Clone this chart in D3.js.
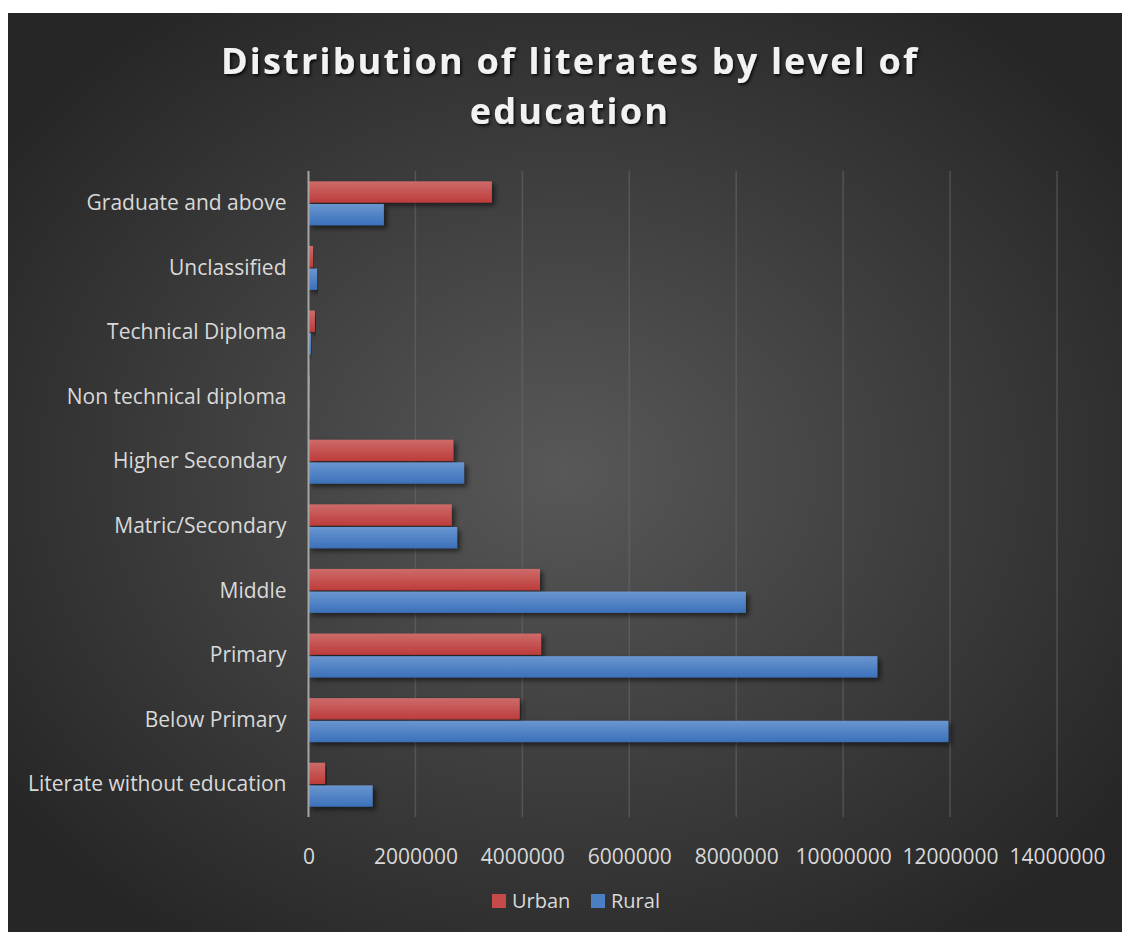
<!DOCTYPE html>
<html>
<head>
<meta charset="utf-8">
<script src="https://cdn.jsdelivr.net/npm/d3@7"></script>
<style>
  html, body { margin: 0; padding: 0; background: #ffffff; }
  svg { display: block; font-family: "Open Sans", Lato, sans-serif; }
</style>
</head>
<body>
<svg id="chart" width="1122" height="932"></svg>
<script>
// Education levels, bottom to top as drawn on the axis
const categories = [
  "Literate without education",
  "Below Primary",
  "Primary",
  "Middle",
  "Matric/Secondary",
  "Higher Secondary",
  "Non technical diploma",
  "Technical Diploma",
  "Unclassified",
  "Graduate and above"
];
const urban = [310000, 3950000, 4350000, 4330000, 2680000, 2710000, 25000, 120000, 85000, 3430000];
const rural = [1200000, 11970000, 10640000, 8180000, 2780000, 2910000, 20000, 45000, 160000, 1410000];
const seriesNames = ["Urban", "Rural"];
const xTicks = [0, 2000000, 4000000, 6000000, 8000000, 10000000, 12000000, 14000000];
const titleLines = ["Distribution of literates by level of", "education"];

const W = 1122, H = 932;
const FONT = "'Open Sans', Lato, sans-serif";
const svg = d3.select("#chart");
const defs = svg.append("defs");

// Background: dark panel with soft light centre
const bg = defs.append("radialGradient").attr("id", "bgGrad")
  .attr("cx", "50%").attr("cy", "50%").attr("r", "62%");
bg.append("stop").attr("offset", "0%").attr("stop-color", "#585858");
bg.append("stop").attr("offset", "100%").attr("stop-color", "#262626");

// Bar fills: lighter top edge, deeper bottom
function barGrad(id, top, bottom) {
  const g = defs.append("linearGradient").attr("id", id)
    .attr("x1", 0).attr("y1", 0).attr("x2", 0).attr("y2", 1);
  g.append("stop").attr("offset", "0%").attr("stop-color", top);
  g.append("stop").attr("offset", "100%").attr("stop-color", bottom);
}
barGrad("gUrban", "#cd6b6a", "#bd3c3b");
barGrad("gRural", "#6a96d0", "#3b71ba");

const shadow = defs.append("filter").attr("id", "barShadow")
  .attr("x", "-5%").attr("y", "-30%").attr("width", "115%").attr("height", "180%");
shadow.append("feDropShadow").attr("dx", 3).attr("dy", 3).attr("stdDeviation", 2.5)
  .attr("flood-color", "#000").attr("flood-opacity", 0.55);

const titleShadow = defs.append("filter").attr("id", "titleShadow");
titleShadow.append("feDropShadow").attr("dx", 1.5).attr("dy", 2).attr("stdDeviation", 1.5)
  .attr("flood-color", "#000").attr("flood-opacity", 0.8);

svg.append("rect").attr("x", 8).attr("y", 13).attr("width", W - 8).attr("height", H - 13)
  .attr("fill", "url(#bgGrad)");

// Plot area
const plot = { left: 308.5, right: 1057, top: 171, bottom: 817 };

const x = d3.scaleLinear().domain([0, 14000000]).range([plot.left, plot.right]);
const y = d3.scaleBand().domain(categories).range([plot.bottom, plot.top]).paddingInner(0.32).paddingOuter(0.16);
const ySub = d3.scaleBand().domain(seriesNames).range([0, y.bandwidth()]).paddingInner(0.06);

// Vertical gridlines
svg.append("g").selectAll("line").data(xTicks.slice(1)).join("line")
  .attr("x1", d => x(d)).attr("x2", d => x(d))
  .attr("y1", plot.top).attr("y2", plot.bottom)
  .attr("stroke", "#6a6a6a").attr("stroke-opacity", 0.55).attr("stroke-width", 1.5);

// Bars
const groups = svg.append("g").selectAll("g").data(categories).join("g")
  .attr("transform", d => `translate(0,${y(d)})`);

groups.each(function(cat, i) {
  const g = d3.select(this);
  const vals = [
    { s: "Urban", v: urban[i], fill: "url(#gUrban)" },
    { s: "Rural", v: rural[i], fill: "url(#gRural)" }
  ];
  g.selectAll("rect").data(vals).join("rect")
    .attr("x", x(0))
    .attr("y", d => ySub(d.s))
    .attr("width", d => Math.max(0, x(d.v) - x(0)))
    .attr("height", ySub.bandwidth())
    .attr("fill", d => d.fill)
    .attr("filter", "url(#barShadow)");
});

// Zero axis line
svg.append("line")
  .attr("x1", x(0)).attr("x2", x(0))
  .attr("y1", plot.top).attr("y2", plot.bottom)
  .attr("stroke", "#a6a6a6").attr("stroke-width", 2);

// Category labels
const yAxis = d3.axisLeft(y).tickSize(0).tickPadding(22);
const yg = svg.append("g").attr("transform", `translate(${plot.left},0)`).call(yAxis);
yg.select(".domain").remove();
yg.selectAll("text").attr("fill", "#d9d9d9")
  .style("font-size", "21px").style("font-family", FONT);

// Value axis labels
const xAxis = d3.axisBottom(x).tickValues(xTicks).tickSize(0).tickPadding(22)
  .tickFormat(d3.format("d"));
const xg = svg.append("g").attr("transform", `translate(0,${plot.bottom + 10})`).call(xAxis);
xg.select(".domain").remove();
xg.selectAll("text").attr("fill", "#d9d9d9")
  .style("font-size", "21px").style("font-family", FONT);

// Title
svg.append("g").attr("filter", "url(#titleShadow)")
  .selectAll("text").data(titleLines).join("text")
  .attr("x", 570).attr("y", (d, i) => 74 + i * 50)
  .attr("text-anchor", "middle")
  .attr("fill", "#f2f2f2")
  .style("font-size", "36px").style("font-weight", "bold").style("font-family", FONT)
  .style("letter-spacing", "2.2px")
  .text(d => d);

// Legend
const legend = svg.append("g").attr("transform", "translate(492,901)");
const legendItems = [
  { name: "Urban", color: "#c54a49", dx: 0 },
  { name: "Rural", color: "#4a7fc4", dx: 99 }
];
const li = legend.selectAll("g").data(legendItems).join("g")
  .attr("transform", d => `translate(${d.dx},0)`);
li.append("rect").attr("x", 0).attr("y", -7).attr("width", 14).attr("height", 14)
  .attr("fill", d => d.color);
li.append("text").attr("x", 20).attr("y", 0).attr("dy", "0.35em")
  .attr("fill", "#d9d9d9")
  .style("font-size", "20px").style("font-family", FONT)
  .text(d => d.name);
</script>
</body>
</html>
